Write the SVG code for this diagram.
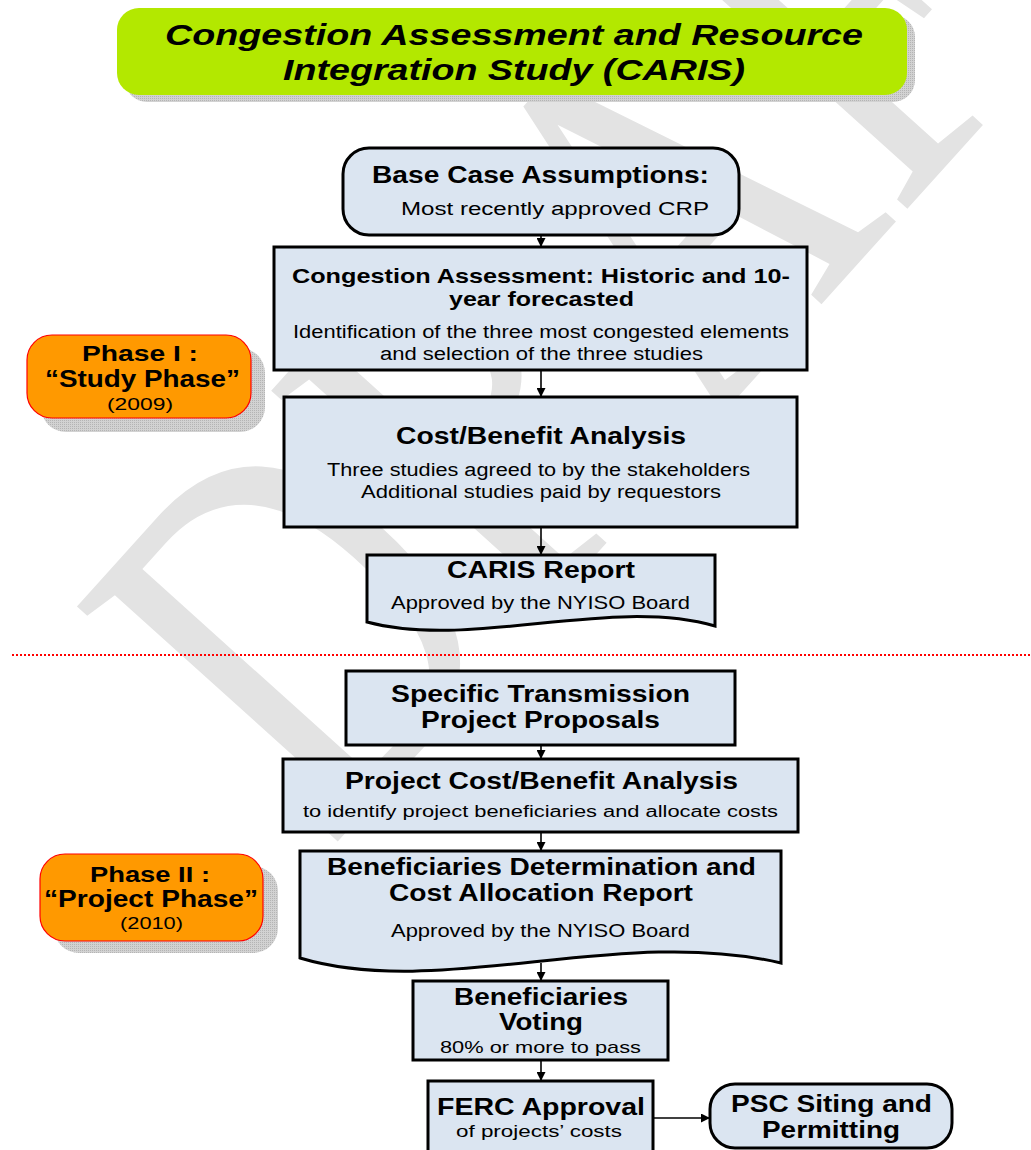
<svg xmlns="http://www.w3.org/2000/svg" width="1031" height="1150" viewBox="0 0 1031 1150">
<defs>
<marker id="ah" viewBox="0 0 10 10" refX="10" refY="5" markerWidth="9" markerHeight="9" markerUnits="userSpaceOnUse" orient="auto"><path d="M0,0 L10,5 L0,10 z" fill="#000"/></marker>
<pattern id="shd" width="2" height="2" patternUnits="userSpaceOnUse"><rect width="2" height="2" fill="#d2d2d2"/><rect width="1" height="1" fill="#b4b4b4"/></pattern>
</defs>
<style>
.box{fill:#dbe5f1;stroke:#000;stroke-width:3}
.phase{fill:#ff9900;stroke:#ff0000;stroke-width:1.2}
.shadow{fill:url(#shd)}
.h{font-family:"Liberation Sans",Arial,sans-serif;font-weight:bold;fill:#000;text-anchor:middle}
.t{font-family:"Liberation Sans",Arial,sans-serif;fill:#000;text-anchor:middle}
.conn{stroke:#000;stroke-width:1.6;fill:none;marker-end:url(#ah)}
.wm{font-family:"Liberation Serif","Times New Roman",serif;fill:#e3e3e3}
</style>
<rect width="1031" height="1150" fill="#fff"/>
<text id="watermark" class="wm" transform="translate(330,850) rotate(-48) scale(0.75,1)" font-size="536">DRAFT</text>

<g id="title">
<rect x="125" y="15" width="790" height="87" rx="22" class="shadow"/>
<rect x="117" y="8" width="790" height="87" rx="22" fill="#b3e800"/>
<text class="h" font-style="italic" font-size="30" x="514" y="45" textLength="698" lengthAdjust="spacingAndGlyphs">Congestion Assessment and Resource</text>
<text class="h" font-style="italic" font-size="30" x="514" y="80" textLength="462" lengthAdjust="spacingAndGlyphs">Integration Study (CARIS)</text>
</g>

<g id="phase1">
<rect x="41" y="348" width="224" height="84" rx="25" class="shadow"/>
<rect x="27" y="335" width="224" height="83" rx="25" class="phase"/>
<text class="h" font-size="22" x="140" y="361" textLength="116" lengthAdjust="spacingAndGlyphs">Phase I :</text>
<text class="h" font-size="23" x="142.5" y="387" textLength="195" lengthAdjust="spacingAndGlyphs">“Study Phase”</text>
<text class="t" font-size="16" x="140" y="410" textLength="66" lengthAdjust="spacingAndGlyphs">(2009)</text>
</g>

<g id="phase2">
<rect x="54" y="866" width="224" height="87" rx="25" class="shadow"/>
<rect x="40" y="854" width="223" height="87" rx="25" class="phase"/>
<text class="h" font-size="22" x="150" y="882" textLength="120" lengthAdjust="spacingAndGlyphs">Phase II :</text>
<text class="h" font-size="23" x="151" y="907" textLength="214" lengthAdjust="spacingAndGlyphs">“Project Phase”</text>
<text class="t" font-size="16" x="151.5" y="929" textLength="63" lengthAdjust="spacingAndGlyphs">(2010)</text>
</g>

<line id="separator" x1="12" y1="655" x2="1031" y2="655" stroke="#ff0000" stroke-width="2" stroke-dasharray="2,2"/>

<g id="connectors">
<line class="conn" x1="541" y1="235" x2="541" y2="247"/>
<line class="conn" x1="541" y1="371" x2="541" y2="397"/>
<line class="conn" x1="541" y1="528" x2="541" y2="555"/>
<line class="conn" x1="541" y1="746" x2="541" y2="759"/>
<line class="conn" x1="541" y1="833" x2="541" y2="851"/>
<line class="conn" x1="541" y1="963" x2="541" y2="981"/>
<line class="conn" x1="541" y1="1061" x2="541" y2="1081"/>
<line class="conn" x1="654" y1="1118" x2="710" y2="1118"/>
</g>

<g id="base-case">
<rect x="343" y="148" width="396" height="87" rx="26" class="box"/>
<text class="h" font-size="23" x="540.5" y="183" textLength="337" lengthAdjust="spacingAndGlyphs">Base Case Assumptions:</text>
<text class="t" font-size="18" x="555" y="215" textLength="308" lengthAdjust="spacingAndGlyphs">Most recently approved CRP</text>
</g>

<g id="congestion-assessment">
<rect x="274" y="247" width="533" height="123" class="box"/>
<text class="h" font-size="21" x="541" y="283" textLength="498" lengthAdjust="spacingAndGlyphs">Congestion Assessment: Historic and 10-</text>
<text class="h" font-size="21" x="541.5" y="306" textLength="185" lengthAdjust="spacingAndGlyphs">year forecasted</text>
<text class="t" font-size="18" x="541" y="338" textLength="496" lengthAdjust="spacingAndGlyphs">Identification of the three most congested elements</text>
<text class="t" font-size="18" x="541.5" y="360" textLength="323" lengthAdjust="spacingAndGlyphs">and selection of the three studies</text>
</g>

<g id="cost-benefit">
<rect x="284" y="397" width="513" height="130" class="box"/>
<text class="h" font-size="23" x="541" y="444" textLength="290" lengthAdjust="spacingAndGlyphs">Cost/Benefit Analysis</text>
<text class="t" font-size="18" x="538.5" y="476" textLength="423" lengthAdjust="spacingAndGlyphs">Three studies agreed to by the stakeholders</text>
<text class="t" font-size="18" x="541" y="498" textLength="360" lengthAdjust="spacingAndGlyphs">Additional studies paid by requestors</text>
</g>

<g id="caris-report">
<path d="M367,555 H715 V626 C610,596 470,650 367,622 Z" class="box"/>
<text class="h" font-size="23" x="541" y="578" textLength="188" lengthAdjust="spacingAndGlyphs">CARIS Report</text>
<text class="t" font-size="18" x="540.5" y="609" textLength="299" lengthAdjust="spacingAndGlyphs">Approved by the NYISO Board</text>
</g>

<g id="specific-transmission">
<rect x="346" y="671" width="389" height="74" class="box"/>
<text class="h" font-size="23" x="540.5" y="702" textLength="299" lengthAdjust="spacingAndGlyphs">Specific Transmission</text>
<text class="h" font-size="23" x="540.5" y="728" textLength="239" lengthAdjust="spacingAndGlyphs">Project Proposals</text>
</g>

<g id="project-cost-benefit">
<rect x="283" y="759" width="515" height="73" class="box"/>
<text class="h" font-size="23" x="541.5" y="789" textLength="393" lengthAdjust="spacingAndGlyphs">Project Cost/Benefit Analysis</text>
<text class="t" font-size="16" x="540.5" y="817" textLength="475" lengthAdjust="spacingAndGlyphs">to identify project beneficiaries and allocate costs</text>
</g>

<g id="beneficiaries-determination">
<path d="M300,851 H781 V963 C620,925 440,1000 300,958 Z" class="box"/>
<text class="h" font-size="23" x="541.5" y="875" textLength="429" lengthAdjust="spacingAndGlyphs">Beneficiaries Determination and</text>
<text class="h" font-size="23" x="541" y="901" textLength="304" lengthAdjust="spacingAndGlyphs">Cost Allocation Report</text>
<text class="t" font-size="18" x="540.5" y="937" textLength="299" lengthAdjust="spacingAndGlyphs">Approved by the NYISO Board</text>
</g>

<g id="beneficiaries-voting">
<rect x="413" y="981" width="255" height="79" class="box"/>
<text class="h" font-size="23" x="541" y="1005" textLength="174" lengthAdjust="spacingAndGlyphs">Beneficiaries</text>
<text class="h" font-size="23" x="541" y="1030" textLength="84" lengthAdjust="spacingAndGlyphs">Voting</text>
<text class="t" font-size="17" x="540.5" y="1053" textLength="201" lengthAdjust="spacingAndGlyphs">80% or more to pass</text>
</g>

<g id="ferc-approval">
<rect x="428" y="1081" width="225" height="85" class="box"/>
<text class="h" font-size="23" x="541" y="1115" textLength="208" lengthAdjust="spacingAndGlyphs">FERC Approval</text>
<text class="t" font-size="17" x="539" y="1137" textLength="166" lengthAdjust="spacingAndGlyphs">of projects’ costs</text>
</g>

<g id="psc-siting">
<rect x="710" y="1084" width="242" height="64" rx="25" class="box"/>
<text class="h" font-size="23" x="831.5" y="1112" textLength="201" lengthAdjust="spacingAndGlyphs">PSC Siting and</text>
<text class="h" font-size="23" x="831" y="1138" textLength="138" lengthAdjust="spacingAndGlyphs">Permitting</text>
</g>
</svg>
